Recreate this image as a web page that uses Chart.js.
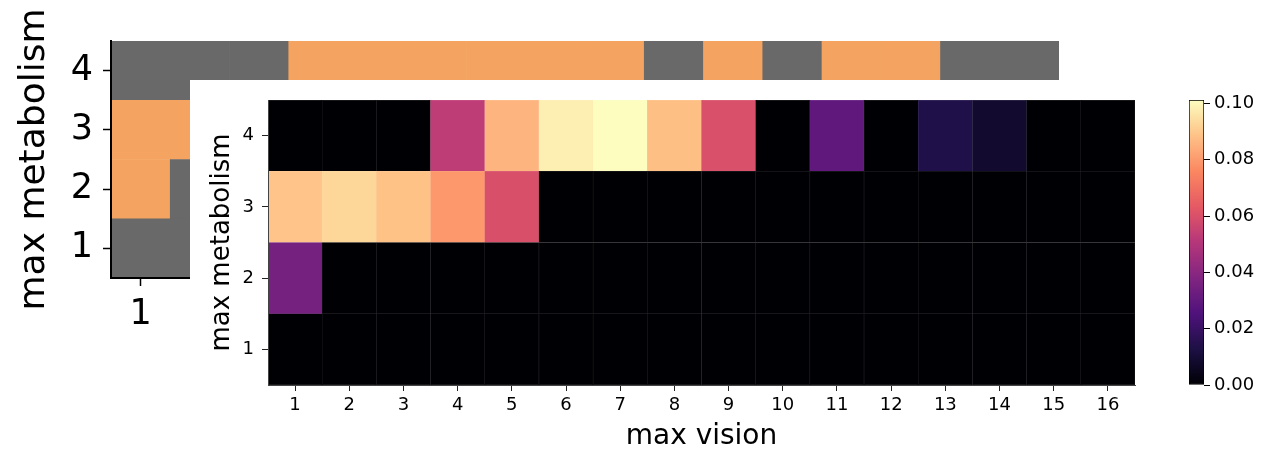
<!DOCTYPE html>
<html>
<head>
<meta charset="utf-8">
<script src="https://cdn.jsdelivr.net/npm/chart.js@4/dist/chart.umd.min.js"></script>
<style>
  html, body { margin: 0; padding: 0; background: #fff; }
  #stage { position: relative; width: 1276px; height: 451px; overflow: hidden; }
  .layer { position: absolute; }
</style>
</head>
<body>
<div id="stage">
  <div class="layer" style="left:0;top:0;width:1276px;height:451px;"><canvas id="bg" width="1276" height="451"></canvas></div>
  <div class="layer" style="left:190px;top:80px;width:1086px;height:371px;background:#fff;"><canvas id="fg" width="1086" height="371"></canvas></div>
  <div class="layer" style="left:1150px;top:80px;width:126px;height:371px;"><canvas id="cb" width="126" height="371"></canvas></div>
</div>
<script>
// ---------------- data ----------------
const visionLabels = ['1','2','3','4','5','6','7','8','9','10','11','12','13','14','15','16'];
const metabolismLevels = [1, 2, 3, 4];

// heatmap values per metabolism row (x = max vision 1..16)
const valuesMetab1 = [0, 0, 0, 0, 0, 0, 0, 0, 0, 0, 0, 0, 0, 0, 0, 0];
const valuesMetab2 = [0.035, 0, 0, 0, 0, 0, 0, 0, 0, 0, 0, 0, 0, 0, 0, 0];
const valuesMetab3 = [0.089, 0.0928, 0.0885, 0.0795, 0.0597, 0, 0, 0, 0, 0, 0, 0, 0, 0, 0, 0];
const valuesMetab4 = [0, 0, 0, 0.053, 0.0855, 0.098, 0.1012, 0.088, 0.06, 0, 0.0296, 0, 0.0137, 0.0085, 0, 0];

// background (partly hidden) category map: 1 = orange, 0 = gray
const bgMetab1 = [0, 0, 0, 0, 0, 0, 0, 0, 0, 0, 0, 0, 0, 0, 0, 0];
const bgMetab2 = [1, 0, 0, 0, 0, 0, 0, 0, 0, 0, 0, 0, 0, 0, 0, 0];
const bgMetab3 = [1, 1, 1, 1, 1, 0, 0, 0, 0, 0, 0, 0, 0, 0, 0, 0];
const bgMetab4 = [0, 0, 0, 1, 1, 1, 1, 1, 1, 0, 1, 0, 1, 1, 0, 0];

const colorbarTicks = [0, 0.02, 0.04, 0.06, 0.08, 0.10];
const colorbarMin = 0;
const colorbarMax = 0.1012;

// ---------------- styling helpers ----------------
const MAGMA = ['#000004','#1c1044','#4f127b','#812581','#b5367a','#e55964','#fb8761','#fec287','#fcfdbf'];
function hexRgb(h) { return [parseInt(h.slice(1,3),16), parseInt(h.slice(3,5),16), parseInt(h.slice(5,7),16)]; }
const MAGMA_RGB = MAGMA.map(hexRgb);
function magmaRgb(t) {
  t = Math.max(0, Math.min(1, t));
  const p = t * (MAGMA_RGB.length - 1);
  const i = Math.min(MAGMA_RGB.length - 2, Math.floor(p));
  const f = p - i;
  const a = MAGMA_RGB[i], b = MAGMA_RGB[i + 1];
  return [0,1,2].map(k => a[k] + (b[k] - a[k]) * f);
}
function rgbStr(c) { return 'rgb(' + c.map(v => Math.round(v)).join(',') + ')'; }
function cellColor(v) { return rgbStr(magmaRgb((v - colorbarMin) / (colorbarMax - colorbarMin))); }
function cellEdge(v) {
  const c = magmaRgb((v - colorbarMin) / (colorbarMax - colorbarMin));
  return rgbStr(c.map(x => x * 0.85 + 255 * 0.15));
}

Chart.defaults.font.family = 'DejaVu Sans';
Chart.defaults.color = '#000';
Chart.defaults.animation = false;
Chart.defaults.plugins.legend.display = false;
Chart.defaults.plugins.tooltip.enabled = false;

function fixWidth(w) { return function (s) { s.width = w; }; }
function fixHeight(h) { return function (s) { s.height = h; }; }
function setTicks(list) { return function (s) { s.ticks = list.map(v => ({ value: v })); }; }

// ---------------- background chart ----------------
const ORANGE = '#f4a460', GRAY = '#696969';
const bgRows = [bgMetab1, bgMetab2, bgMetab3, bgMetab4];
new Chart(document.getElementById('bg'), {
  type: 'bar',
  data: {
    labels: visionLabels,
    datasets: bgRows.map((row, r) => ({
      data: row.map(() => [metabolismLevels[r] - 0.5, metabolismLevels[r] + 0.5]),
      backgroundColor: row.map(c => c ? ORANGE : GRAY),
      borderWidth: 0,
      grouped: false,
      barPercentage: 1,
      categoryPercentage: 1
    }))
  },
  options: {
    responsive: false,
    devicePixelRatio: 1,
    layout: { padding: { left: 0, top: 41, right: 217, bottom: 0 } },
    scales: {
      x: {
        type: 'category',
        offset: true,
        afterFit: fixHeight(173),
        grid: { offset: false, drawOnChartArea: false, drawTicks: true, tickLength: 8, tickColor: '#000', tickWidth: 1.5 },
        border: { display: true, color: '#000', width: 2, z: 1 },
        ticks: { font: { size: 35 }, padding: 8, color: '#000', maxRotation: 0, autoSkip: false }
      },
      y: {
        type: 'linear',
        min: 0.5, max: 4.5,
        afterFit: fixWidth(111),
        afterBuildTicks: setTicks(metabolismLevels),
        grid: { drawOnChartArea: false, drawTicks: true, tickLength: 8, tickColor: '#000', tickWidth: 1.5 },
        border: { display: true, color: '#000', width: 2, z: 1 },
        ticks: { font: { size: 35 }, padding: 10, color: '#000' },
        title: { display: true, text: 'max metabolism', font: { size: 36, lineHeight: 1 }, padding: { top: 17, bottom: 0 }, color: '#000' }
      }
    }
  }
});

// ---------------- foreground heatmap ----------------
const fgRows = [valuesMetab1, valuesMetab2, valuesMetab3, valuesMetab4];
new Chart(document.getElementById('fg'), {
  type: 'bar',
  data: {
    labels: visionLabels,
    datasets: fgRows.map((row, r) => ({
      data: row.map(() => [metabolismLevels[r] - 0.5, metabolismLevels[r] + 0.5]),
      backgroundColor: row.map(cellColor),
      borderColor: row.map(cellEdge),
      borderWidth: 0.5,
      borderSkipped: false,
      grouped: false,
      barPercentage: 1,
      categoryPercentage: 1
    }))
  },
  options: {
    responsive: false,
    devicePixelRatio: 1,
    layout: { padding: { left: 0, top: 20, right: 141, bottom: 0 } },
    scales: {
      x: {
        type: 'category',
        offset: true,
        afterFit: fixHeight(66),
        grid: { offset: false, drawOnChartArea: false, drawTicks: true, tickLength: 6, tickColor: '#222', tickWidth: 1 },
        border: { display: true, color: '#444', width: 1, z: 1 },
        ticks: { font: { size: 18 }, padding: 4, color: '#000', maxRotation: 0, autoSkip: false },
        title: { display: true, text: 'max vision', font: { size: 28, lineHeight: 1 }, padding: { top: 0, bottom: 0 }, color: '#000' }
      },
      y: {
        type: 'linear',
        min: 0.5, max: 4.5,
        afterFit: fixWidth(78),
        afterBuildTicks: setTicks(metabolismLevels),
        grid: { drawOnChartArea: false, drawTicks: true, tickLength: 6, tickColor: '#222', tickWidth: 1 },
        border: { display: true, color: '#444', width: 1, z: 1 },
        ticks: { font: { size: 18 }, padding: 8, color: '#000' },
        title: { display: true, text: 'max metabolism', font: { size: 26, lineHeight: 1 }, padding: { top: 19, bottom: 0 }, color: '#000' }
      }
    }
  }
});

// ---------------- colorbar ----------------
new Chart(document.getElementById('cb'), {
  type: 'bar',
  data: {
    labels: ['colorbar'],
    datasets: [{
      data: [[colorbarMin, colorbarMax]],
      backgroundColor: function (ctx) {
        const area = ctx.chart.chartArea;
        if (!area) return '#000';
        const g = ctx.chart.ctx.createLinearGradient(0, area.bottom, 0, area.top);
        MAGMA.forEach((c, i) => g.addColorStop(i / (MAGMA.length - 1), c));
        return g;
      },
      borderColor: '#000',
      borderWidth: 1,
      borderSkipped: false,
      barPercentage: 1,
      categoryPercentage: 1
    }]
  },
  options: {
    responsive: false,
    devicePixelRatio: 1,
    layout: { padding: { left: 39, top: 20, right: 0, bottom: 66 } },
    scales: {
      x: { display: false, offset: true },
      y: {
        type: 'linear',
        position: 'right',
        min: colorbarMin, max: colorbarMax,
        afterFit: fixWidth(72),
        afterBuildTicks: setTicks(colorbarTicks),
        grid: { drawOnChartArea: false, drawTicks: true, tickLength: 6, tickColor: '#000', tickWidth: 1 },
        border: { display: false },
        ticks: { font: { size: 18 }, padding: 4, color: '#000', callback: v => Number(v).toFixed(2) }
      }
    }
  }
});
</script>
</body>
</html>
